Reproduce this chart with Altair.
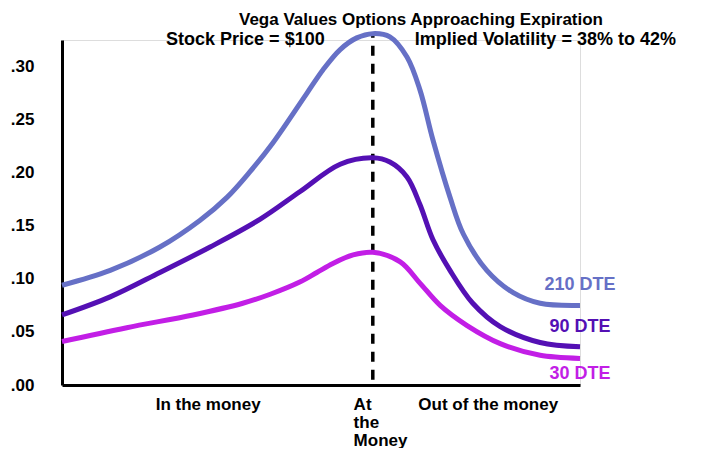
import altair as alt
import pandas as pd

# ---- data ----
series_names = ["210 DTE", "90 DTE", "30 DTE"]
series_colors = ["#6670c6", "#5410b4", "#c21ee6"]

x_210 = [0, 9.3, 18.9, 26.6, 31.9, 36.3, 40.7, 47.3, 50.4, 53.7, 56.9, 60.0, 63.3, 66.6, 69.1, 71.6, 74.9, 77.5, 82.0, 87.1, 92.3, 100]
y_210 = [0.094, 0.108, 0.130, 0.155, 0.177, 0.201, 0.228, 0.275, 0.297, 0.316, 0.327, 0.331, 0.328, 0.309, 0.278, 0.231, 0.177, 0.142, 0.108, 0.087, 0.077, 0.075]

x_90 = [0, 9.3, 18.9, 28.6, 38.2, 45.9, 53.7, 60.0, 63.3, 66.6, 69.1, 71.6, 74.9, 79.3, 84.6, 92.3, 100]
y_90 = [0.066, 0.083, 0.106, 0.130, 0.156, 0.182, 0.208, 0.214, 0.210, 0.196, 0.170, 0.137, 0.108, 0.077, 0.055, 0.040, 0.036]

x_30 = [0, 12.5, 25.3, 34.9, 40.2, 45.9, 49.2, 52.3, 56.2, 60.0, 65.3, 69.1, 73.0, 78.2, 84.6, 92.3, 100]
y_30 = [0.041, 0.054, 0.066, 0.077, 0.0855, 0.097, 0.106, 0.1145, 0.1225, 0.125, 0.116, 0.096, 0.075, 0.056, 0.039, 0.028, 0.025]

label_x = [100, 100, 100]
label_y = [0.094, 0.055, 0.010]

atm_x = 60
atm_y = [0.005, 0.33]

y_ticks = [0, 0.05, 0.10, 0.15, 0.20, 0.25, 0.30]
x_tick_pos = [18.0, 56.2, 68.7]

title_text = "Vega Values Options Approaching Expiration"
subtitle_text = "Stock Price = $100" + "\u00a0" * 18 + "Implied Volatility = 38% to 42%"

# ---- tables ----
rows = []
for name, xs, ys in [("210 DTE", x_210, y_210), ("90 DTE", x_90, y_90), ("30 DTE", x_30, y_30)]:
    for i, (a, b) in enumerate(zip(xs, ys)):
        rows.append({"series": name, "x": a, "y": b, "order": i})
lines_df = pd.DataFrame(rows)
labels_df = pd.DataFrame({"series": series_names, "x": label_x, "y": label_y})
rule_df = pd.DataFrame({"x": [atm_x], "y": [atm_y[0]], "y2": [atm_y[1]]})

FONT = "Liberation Sans"

x_scale = alt.Scale(domain=[0, 100], nice=False, zero=False)
y_scale = alt.Scale(domain=[0, 0.325], nice=False)
color_scale = alt.Scale(domain=series_names, range=series_colors)

x_axis = alt.Axis(
    values=x_tick_pos, title=None, ticks=False, grid=False,
    domainColor="black", domainWidth=3,
    labelExpr="datum.value < 40 ? 'In the money' : (datum.value < 60 ? ['At', 'the', 'Money'] : 'Out of the money')",
    labelAlign="left", labelBaseline="top", labelPadding=11, labelLineHeight=18,
    labelFont=FONT, labelFontSize=17, labelFontWeight="bold", labelColor="black",
    labelOverlap=False, labelFlush=False,
)
y_axis = alt.Axis(
    values=y_ticks, title=None, ticks=False, grid=False,
    domainColor="black", domainWidth=3,
    labelExpr="replace(format(datum.value, '.2f'), '0.', '.')",
    labelPadding=28, labelFont=FONT, labelFontSize=17, labelFontWeight="bold",
    labelColor="black", labelOverlap=False, labelFlush=False,
)

lines = alt.Chart(lines_df).mark_line(strokeWidth=5, interpolate="catmull-rom", clip=False).encode(
    x=alt.X("x:Q", scale=x_scale, axis=x_axis),
    y=alt.Y("y:Q", scale=y_scale, axis=y_axis),
    color=alt.Color("series:N", scale=color_scale, legend=None),
    order="order:Q",
    detail="series:N",
)

rule = alt.Chart(rule_df).mark_rule(color="black", strokeWidth=3.5, strokeDash=[10, 8]).encode(
    x="x:Q", y="y:Q", y2="y2:Q"
)

labels = alt.Chart(labels_df).mark_text(
    font=FONT, fontSize=18, fontWeight="bold", align="center", baseline="middle", clip=False
).encode(
    x="x:Q", y="y:Q",
    text="series:N",
    color=alt.Color("series:N", scale=color_scale, legend=None),
)

chart = alt.layer(rule, lines, labels).properties(
    width=518, height=345,
    autosize=alt.AutoSizeParams(type="none"),
    padding={"left": 54, "top": 32, "right": 132, "bottom": 63},
    title=alt.TitleParams(
        text=title_text, subtitle=subtitle_text,
        anchor="middle", frame="group", dx=100, offset=-26,
        font=FONT, fontSize=17, fontWeight="bold", color="black",
        subtitleFont=FONT, subtitleFontSize=18, subtitleFontWeight="bold",
        subtitleColor="black", subtitlePadding=2,
    ),
).configure_view(stroke=None).configure(background="white")

chart.save("out.html", embed_options={"renderer": "svg", "actions": False})
